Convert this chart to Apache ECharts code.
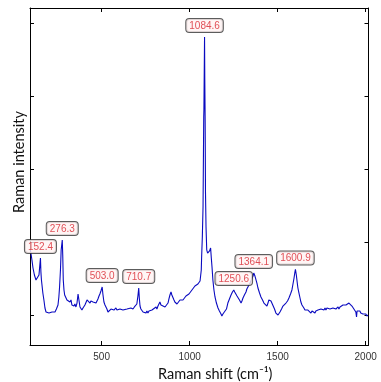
<!DOCTYPE html>
<html>
<head>
<meta charset="utf-8">
<script src="https://cdn.jsdelivr.net/npm/echarts@6/dist/echarts.min.js"></script>
<style>
html,body{margin:0;padding:0;background:#fff;}
#chart{width:381px;height:382px;}
</style>
</head>
<body>
<div id="chart"></div>
<script>
// Raman shift (cm-1)
var shift = [95,98,104,110,118,127,132,138,144,152.4,155,158,166,172,178,184,189,195,201,206,212,218,223,229,235,243,252,257,261,266,270,276.3,279,282,286,290,297,303,309,320,326,331,337,343,348,354,360,366,371,377,382,388,394,400,405,411,417,422,428,434,439,445,451,456,462,468,473,479,485,490,496,503.0,507,513,519,525,530,536,542,547,553,559,564,570,576,581,587,593,598,604,610,615,621,627,632,644,655,666,678,686,695,700,706,710.7,714,718,723,729,735,740,746,752,757,763,769,775,786,797,809,814,820,831,837,848,860,865,871,877,882,888,894,899,905,911,916,922,928,934,939,945,951,956,962,968,973,979,985,990,996,1002,1007,1013,1019,1024,1030,1036,1041,1047,1053,1059,1063,1066,1068,1072,1076,1080,1081,1084.6,1086,1088,1090,1093,1097,1102,1107,1113,1119,1123,1127,1132,1138,1144,1152,1161,1169,1178,1183,1189,1195,1200,1209,1217,1226,1235,1243,1250.6,1256,1263,1269,1275,1283,1292,1297,1303,1311,1320,1325,1331,1337,1343,1348,1354,1360,1364.1,1371,1377,1382,1388,1397,1405,1414,1422,1431,1439,1445,1450,1456,1462,1467,1473,1482,1490,1496,1502,1507,1513,1522,1530,1539,1547,1556,1564,1573,1581,1587,1593,1598,1600.9,1606,1610,1615,1621,1627,1632,1638,1644,1649,1655,1661,1666,1672,1678,1683,1689,1695,1700,1706,1712,1717,1723,1729,1734,1740,1746,1751,1757,1763,1769,1774,1780,1786,1791,1797,1803,1808,1814,1820,1825,1831,1837,1843,1848,1854,1859,1865,1871,1876,1882,1888,1893,1899,1905,1910,1916,1922,1927,1933,1939,1944,1948,1951,1955,1961,1967,1972,1978,1984,1990,1995,2001,2007,2013];
// Raman intensity (a.u.)
var intensity = [890,849,754,644,548,480,507,480,548,780,589,480,301,206,96,41,27,55,27,41,14,41,27,55,41,82,137,247,384,617,890,1028,822,480,343,274,247,206,233,178,206,137,164,123,151,110,164,288,206,110,96,68,96,123,137,164,206,233,192,164,192,206,178,164,192,164,178,219,260,288,329,384,288,178,137,110,82,41,68,27,82,55,96,68,82,96,68,82,55,82,55,96,68,82,68,82,68,96,82,110,123,151,260,370,233,123,82,55,41,14,41,27,55,27,55,41,68,82,110,82,123,178,137,137,110,96,123,164,219,274,315,274,247,206,178,164,151,178,164,206,192,219,206,233,233,260,247,274,288,315,315,343,356,370,397,384,411,425,438,466,480,617,795,1069,1480,2713,2809,3809,3220,2672,1671,1206,891,849,863,877,918,781,658,480,343,247,164,96,55,14,-14,14,0,41,82,164,219,274,315,343,315,288,260,233,206,164,192,233,274,315,356,384,411,438,466,493,534,575,534,507,438,370,301,247,206,164,137,123,164,206,233,192,164,137,82,27,0,0,27,41,82,123,137,164,192,233,288,343,425,507,589,625,548,466,370,301,233,178,137,110,96,68,82,41,68,41,55,27,55,41,55,27,55,41,68,55,68,82,55,82,68,96,68,96,82,110,82,96,68,96,82,110,82,96,110,82,110,123,110,137,123,151,137,164,151,164,137,151,123,110,82,68,41,-27,55,68,41,55,27,41,14,27,0,14,-14,0];
// Labelled peaks
var peakShift = [152.4, 276.3, 503.0, 710.7, 1084.6, 1250.6, 1364.1, 1600.9];
var peakIntensity = [780, 1028, 384, 370, 3809, 343, 575, 625];

var lineData = shift.map(function(x, i){ return [x, intensity[i]]; });
var peakData = peakShift.map(function(x, i){ return [x, peakIntensity[i]]; });

var X_MIN = 93, X_MAX = 2016, Y_MIN = -411, Y_MAX = 4206;
var titleFont = 'Lato';

var chart = echarts.init(document.getElementById('chart'), null, {renderer: 'canvas'});
chart.setOption({
  animation: false,
  backgroundColor: '#ffffff',
  grid: {left: 30, right: 12.5, top: 8, bottom: 37, containLabel: false, outerBoundsMode: 'none'},
  xAxis: [{
    type: 'value', min: X_MIN, max: X_MAX, splitNumber: 4,
    position: 'bottom',
    name: 'Raman shift (cm\u207B\u00B9)', nameLocation: 'middle', nameGap: 19,
    nameTextStyle: {fontFamily: titleFont, fontSize: 14.5, color: '#111', padding: [0, 0, 0, 32]},
    axisLine: {show: true, onZero: false, lineStyle: {color: '#000', width: 1}},
    axisTick: {show: true, inside: true, length: 4, lineStyle: {color: '#000'}},
    axisLabel: {show: true, color: '#333', fontFamily: 'Liberation Sans', fontSize: 10, margin: 7,
      formatter: function(v){ return (v % 500 === 0) ? String(v) : ''; }},
    splitLine: {show: false}
  }, {
    type: 'value', min: X_MIN, max: X_MAX, splitNumber: 4,
    position: 'top',
    axisLine: {show: true, onZero: false, lineStyle: {color: '#000', width: 1}},
    axisTick: {show: true, inside: true, length: 4, lineStyle: {color: '#000'}},
    axisLabel: {show: false},
    splitLine: {show: false}
  }],
  yAxis: [{
    type: 'value', min: Y_MIN, max: Y_MAX,
    position: 'left',
    name: 'Raman intensity', nameLocation: 'middle', nameGap: 3,
    nameTextStyle: {fontFamily: titleFont, fontSize: 14.5, color: '#111', padding: [0, 0, 0, 29]},
    axisLine: {show: true, onZero: false, lineStyle: {color: '#000', width: 1}},
    axisTick: {show: true, inside: true, length: 4, lineStyle: {color: '#000'}},
    axisLabel: {show: false},
    splitLine: {show: false}
  }, {
    type: 'value', min: Y_MIN, max: Y_MAX,
    position: 'right',
    axisLine: {show: true, onZero: false, lineStyle: {color: '#000', width: 1}},
    axisTick: {show: true, inside: true, length: 4, lineStyle: {color: '#000'}},
    axisLabel: {show: false},
    splitLine: {show: false}
  }],
  series: [{
    type: 'line',
    data: lineData,
    xAxisIndex: 0, yAxisIndex: 0,
    showSymbol: false, symbol: 'none',
    lineStyle: {color: '#0a0ac0', width: 1.1},
    clip: true,
    z: 2
  }, {
    type: 'scatter',
    data: peakData,
    xAxisIndex: 0, yAxisIndex: 0,
    symbolSize: 0,
    clip: false,
    silent: true,
    z: 5,
    label: {
      show: true, position: 'top', distance: 5,
      formatter: function(p){ return p.value[0].toFixed(1); },
      color: '#d8262e', fontFamily: 'Liberation Sans', fontSize: 10,
      backgroundColor: '#fff3f3', borderColor: '#333', borderWidth: 1, borderRadius: 3,
      padding: [2, 3, 1, 3]
    }
  }]
});
</script>
</body>
</html>
